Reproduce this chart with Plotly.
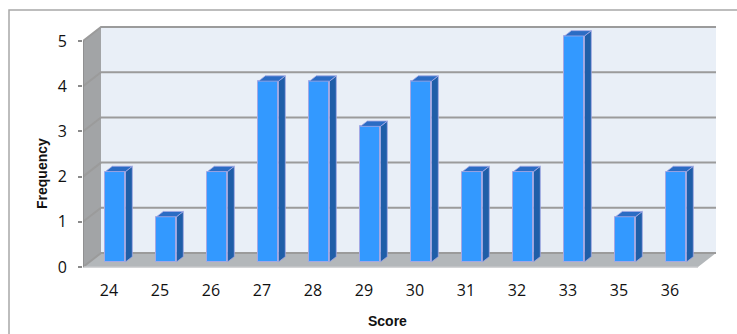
import plotly.graph_objects as go

# ---- data ----------------------------------------------------------------
scores = ["24", "25", "26", "27", "28", "29", "30", "31", "32", "33", "35", "36"]
frequency = [2, 1, 2, 4, 4, 3, 4, 2, 2, 5, 1, 2]
y_ticks = [0, 1, 2, 3, 4, 5]

# ---- geometry (pixels) ---------------------------------------------------
W, H = 737, 334
PL, PR, PT, PB = 83, 720, 20, 268     # plot area edges
SLOT = 51.0                           # px per category on the front plane
UNIT = 45.2                           # px per frequency unit
X0_PX = 109                           # first category on the front plane
Y0_PX = 267                           # zero on the front plane

x_range = [(PL - X0_PX) / SLOT, (PR - X0_PX) / SLOT]
y_range = [(Y0_PX - PB) / UNIT, (Y0_PX - PT) / UNIT]

# box depth (front plane -> back wall) in axis units
DX = 18 / SLOT
DY = 14 / UNIT
# slice of the depth occupied by the bars
F_FRONT, F_BACK = 0.36, 0.74
BAR_W = 20 / SLOT

X_LEFT = x_range[0]
X_RIGHT = (698 - X0_PX) / SLOT
V_TOP = max(y_ticks)


def px_to_paper_x(p):
    return (p - PL) / (PR - PL)


def px_to_paper_y(p):
    return (PB - p) / (PB - PT)


def poly(points):
    return "M " + " L ".join(f"{x},{y}" for x, y in points) + " Z"


WALL = "#e9eff7"
SIDE = "#a2a4a6"
FLOOR = "#b3b7ba"
GRID = "#9b9b9b"
FRONT = "#3399ff"
DARK = "#1f5ea8"
TOP = "#2b6cc4"
EDGE = "#a4a8e4"

shapes = []
# back wall
shapes.append(dict(type="path", xref="x", yref="y", layer="below",
                   path=poly([(X_LEFT + DX, DY), (X_RIGHT + DX, DY),
                              (X_RIGHT + DX, V_TOP + DY), (X_LEFT + DX, V_TOP + DY)]),
                   fillcolor=WALL, line=dict(width=0)))
# left side wall
shapes.append(dict(type="path", xref="x", yref="y", layer="below",
                   path=poly([(X_LEFT, 0), (X_LEFT + DX, DY),
                              (X_LEFT + DX, V_TOP + DY), (X_LEFT, V_TOP)]),
                   fillcolor=SIDE, line=dict(width=0)))
# floor
shapes.append(dict(type="path", xref="x", yref="y", layer="below",
                   path=poly([(X_LEFT, 0), (X_RIGHT, 0),
                              (X_RIGHT + DX, DY), (X_LEFT + DX, DY)]),
                   fillcolor=FLOOR, line=dict(width=0)))
# gridlines across side wall and back wall
for v in y_ticks:
    shapes.append(dict(type="path", xref="x", yref="y", layer="below",
                       path=f"M {X_LEFT},{v} L {X_LEFT + DX},{v + DY} L {X_RIGHT + DX},{v + DY}",
                       line=dict(color=GRID, width=2)))
# front edge of the floor
shapes.append(dict(type="line", xref="x", yref="y", layer="below",
                   x0=X_LEFT, y0=0, x1=X_RIGHT, y1=0,
                   line=dict(color="#c4c6c8", width=1.5)))
# value axis line
shapes.append(dict(type="line", xref="x", yref="y", layer="below",
                   x0=X_LEFT, y0=0, x1=X_LEFT, y1=V_TOP,
                   line=dict(color="#8a8a8a", width=1.5)))
# outer frame
shapes.append(dict(type="rect", xref="paper", yref="paper", layer="below",
                   x0=px_to_paper_x(9), x1=px_to_paper_x(W + 20),
                   y0=px_to_paper_y(H + 20), y1=px_to_paper_y(10),
                   line=dict(color="#a8a8a8", width=1.5)))

# ---- bars ------------------------------------------------------------------
idx = list(range(len(scores)))
bx = [i + F_FRONT * DX for i in idx]
base = F_FRONT * DY
ddx = (F_BACK - F_FRONT) * DX
ddy = (F_BACK - F_FRONT) * DY

fig = go.Figure()
fig.add_trace(go.Bar(x=bx, y=frequency, base=base, width=BAR_W,
                     marker=dict(color=FRONT, line=dict(color=EDGE, width=1)),
                     hoverinfo="skip", showlegend=False))

side_x, side_y, top_x, top_y = [], [], [], []
for xc, v in zip(bx, frequency):
    xl, xr = xc - BAR_W / 2, xc + BAR_W / 2
    yt = base + v
    side_x += [xr, xr + ddx, xr + ddx, xr, xr, None]
    side_y += [base, base + ddy, yt + ddy, yt, base, None]
    top_x += [xl, xr, xr + ddx, xl + ddx, xl, None]
    top_y += [yt, yt, yt + ddy, yt + ddy, yt, None]

fig.add_trace(go.Scatter(x=side_x, y=side_y, mode="lines", fill="toself",
                         fillcolor=DARK, line=dict(color=EDGE, width=0.8),
                         hoverinfo="skip", showlegend=False))
fig.add_trace(go.Scatter(x=top_x, y=top_y, mode="lines", fill="toself",
                         fillcolor=TOP, line=dict(color=EDGE, width=0.8),
                         hoverinfo="skip", showlegend=False))

# ---- axes ----------------------------------------------------------------
tick_font = dict(family="Open Sans", size=16, color="#111111")
fig.update_xaxes(range=x_range, tickmode="array", tickvals=idx, ticktext=scores,
                 showgrid=False, zeroline=False, showline=False, ticks="",
                 tickfont=tick_font, ticklabelstandoff=11, fixedrange=True)
fig.update_yaxes(range=y_range, tickmode="array", tickvals=y_ticks,
                 ticktext=[str(t) for t in y_ticks],
                 showgrid=False, zeroline=False, showline=False,
                 ticks="outside", ticklen=4, tickcolor="#8a8a8a", tickwidth=1.5,
                 tickfont=tick_font, ticklabelstandoff=8, fixedrange=True)

title_font = dict(family="Liberation Sans", size=14, color="#111111")
fig.add_annotation(text="<b>Frequency</b>", textangle=-90, showarrow=False,
                   xref="paper", yref="paper",
                   x=px_to_paper_x(42), y=px_to_paper_y(174),
                   xanchor="center", yanchor="middle", font=title_font)
fig.add_annotation(text="<b>Score</b>", showarrow=False,
                   xref="paper", yref="paper",
                   x=px_to_paper_x(387), y=px_to_paper_y(321),
                   xanchor="center", yanchor="middle", font=title_font)

fig.update_layout(width=W, height=H,
                  margin=dict(l=PL, r=W - PR, t=PT, b=H - PB),
                  paper_bgcolor="white", plot_bgcolor="rgba(0,0,0,0)",
                  shapes=shapes, bargap=0)

fig.write_html("out.html", config={"displayModeBar": False})
